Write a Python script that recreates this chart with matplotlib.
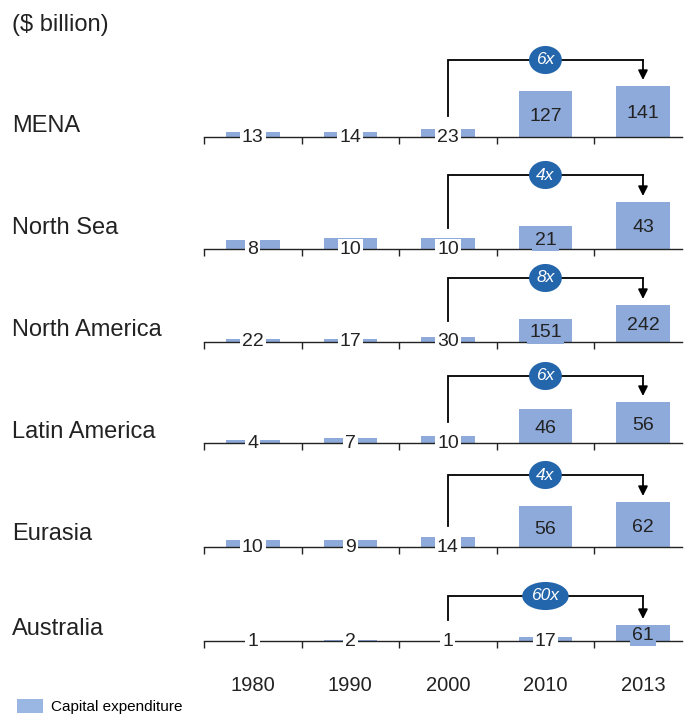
import matplotlib
matplotlib.use("Agg")
import matplotlib.pyplot as plt
from matplotlib.patches import Patch

# ---- data -------------------------------------------------------------
years = ["1980", "1990", "2000", "2010", "2013"]
regions = ["MENA", "North Sea", "North America", "Latin America", "Eurasia", "Australia"]
mena = [13, 14, 23, 127, 141]
north_sea = [8, 10, 10, 21, 43]
north_america = [22, 17, 30, 151, 242]
latin_america = [4, 7, 10, 46, 56]
eurasia = [10, 9, 14, 56, 62]
australia = [1, 2, 1, 17, 61]
growth = ["6x", "4x", "8x", "6x", "4x", "60x"]
series = [mena, north_sea, north_america, latin_america, eurasia, australia]

# ---- layout (pixels) --------------------------------------------------
W, H = 692, 718
FONT = "Liberation Sans"
INK = "#222222"
BAR = "#8eaadb"
BADGE = "#2466ab"
baseline_px = [137, 249, 342, 443, 547, 641]    # y of each row's axis line
label_base_px = [132, 234, 336, 438, 540, 635]  # text baseline of the row names
tallest_px = [51, 47, 37, 41, 45, 16]           # drawn height of each row's largest bar
bracket_px = [77, 74, 64, 67, 72, 45]           # bracket height above the axis line
AX_PX = 90
X0, X1 = 204, 682

fig = plt.figure(figsize=(W / 100, H / 100), dpi=100)

fig.text(12 / W, 1 - 31 / H, "($ billion)", fontsize=17, family=FONT,
         va="baseline", ha="left", color=INK)

for i, (name, vals) in enumerate(zip(regions, series)):
    ax = fig.add_axes([X0 / W, 1 - baseline_px[i] / H, (X1 - X0) / W, AX_PX / H])
    vmax = max(vals)
    top = vmax * AX_PX / tallest_px[i]
    ax.set_xlim(-0.5, 4.4)
    ax.set_ylim(0, top)
    px = lambda p: p * top / AX_PX

    ax.bar(range(len(vals)), vals, width=0.55, color=BAR, zorder=2)

    for s in ("top", "right", "left"):
        ax.spines[s].set_visible(False)
    ax.spines["bottom"].set_color(INK)
    ax.spines["bottom"].set_linewidth(1.0)
    ax.set_yticks([])
    ax.set_xticks([-0.5, 0.5, 1.5, 2.5, 3.5], labels=[])
    ax.tick_params(axis="x", which="major", direction="out", length=5,
                   width=1.0, color=INK)
    ax.patch.set_alpha(0)

    for j, v in enumerate(vals):
        h = v / vmax * tallest_px[i]
        if h >= 14:
            ax.text(j, v / 2 - px(7), str(v), ha="center", va="baseline",
                    fontsize=14, family=FONT, color=INK, zorder=4,
                    bbox=dict(boxstyle="square,pad=0.12", fc=BAR, ec="none"))
        else:
            ax.text(j, -px(4.5), str(v), ha="center", va="baseline",
                    fontsize=14, family=FONT, color=INK, zorder=4,
                    bbox=dict(boxstyle="square,pad=0.1", fc="white", ec="none"))

    # growth bracket from 2000 to 2013
    y_start = px(21)
    y_top = px(bracket_px[i])
    y_tip = vals[4] + px(6)
    ax.plot([2, 2, 4], [y_start, y_top, y_top], color="black", lw=1.3,
            solid_joinstyle="miter", clip_on=False, zorder=3)
    ax.annotate("", xy=(4, y_tip), xytext=(4, y_top),
                arrowprops=dict(arrowstyle="-|>", color="black", lw=1.3,
                                mutation_scale=14, shrinkA=0, shrinkB=0),
                annotation_clip=False, zorder=3)
    ax.text(3, y_top, growth[i], ha="center", va="center", fontsize=12.5,
            family=FONT, style="italic", color="white", zorder=5,
            bbox=dict(boxstyle="ellipse,pad=0.14", fc=BADGE, ec="none"))

    fig.text(12 / W, 1 - label_base_px[i] / H, name, fontsize=17,
             family=FONT, va="baseline", ha="left", color=INK)

    if i == len(regions) - 1:
        ax.set_xticks(range(len(years)), labels=years, minor=True)
        ax.tick_params(axis="x", which="minor", length=0, pad=25,
                       labelsize=14.5, labelcolor=INK)
        for t in ax.get_xticklabels(minor=True):
            t.set_family(FONT)

fig.legend(handles=[Patch(fc="#9ab6e2", ec="none")], labels=["Capital expenditure"],
           loc="lower left", bbox_to_anchor=(17 / W, 4 / H), frameon=False,
           borderpad=0, borderaxespad=0, handlelength=1.7, handleheight=1.0,
           handletextpad=0.55, prop=dict(family=FONT, size=11))

fig.savefig("out.png", dpi=100, facecolor="white")
